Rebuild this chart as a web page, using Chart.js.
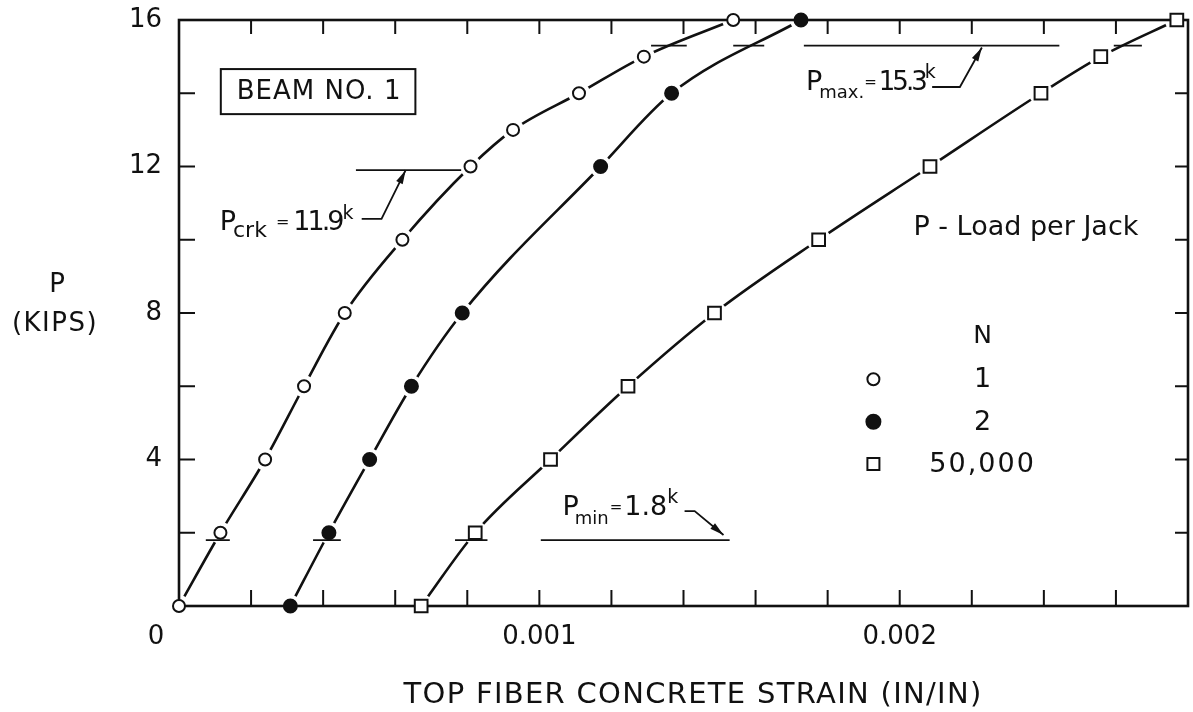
<!DOCTYPE html>
<html>
<head>
<meta charset="utf-8">
<title>Beam No. 1 - load vs. top fiber concrete strain</title>
<script src="https://cdn.jsdelivr.net/npm/chart.js@4.4.1/dist/chart.umd.min.js"></script>
<style>
  html, body { margin: 0; padding: 0; background: #fff; overflow: hidden; }
  #wrap { width: 1200px; height: 712px; }
</style>
</head>
<body>
<div id="wrap"><canvas id="strainChart" width="1200" height="712"></canvas></div>
<script>
// measured points, load P in kips against top fiber strain in in/in
const loadN1 = [0, 2, 4, 6, 8, 10, 12, 13, 14, 15, 16];
const strainN1 = [0, 0.000115, 0.000239, 0.000347, 0.00046, 0.00062, 0.000809, 0.000927, 0.00111, 0.00129, 0.001538];

const loadN2 = [0, 2, 4, 6, 8, 12, 14, 16];
const strainN2 = [0.000309, 0.000416, 0.000529, 0.000645, 0.000786, 0.00117, 0.001367, 0.001726];

const loadN50k = [0, 2, 4, 6, 8, 10, 12, 14, 15, 16];
const strainN50k = [0.000672, 0.000822, 0.001031, 0.001246, 0.001486, 0.001775, 0.002084, 0.002392, 0.002558, 0.002769];

const cycleLabels = ["1", "2", "50,000"];

// load levels and the strain spans their reference lines cover
const pCrk = 11.9;
const pCrkSpans = [[0.000491, 0.000783]];
const pMax = 15.3;
const pMaxSpans = [[0.00131, 0.001409], [0.001538, 0.001624], [0.001734, 0.002443], [0.002594, 0.002672]];
const pMin = 1.8;
const pMinSpans = [[0.0000744, 0.000141], [0.000372, 0.000449], [0.000766, 0.000856], [0.001004, 0.001528]];

const strainLabels = ["0.001", "0.002"];
const loadLabels = [4, 8, 12, 16];
const originLabel = "0";

const INK = "#111";
const FONT = "'DejaVu Sans', sans-serif";

Chart.defaults.font.family = FONT;
Chart.defaults.color = INK;

function toPoints(strains, loads) {
  return strains.map((s, i) => ({ x: s, y: loads[i] }));
}

function spanPoints(spans, level) {
  return spans.flatMap(([a, b]) => [{ x: a, y: level }, { x: b, y: level }, { x: b, y: null }]);
}

const series = [
  { points: toPoints(strainN1, loadN1), style: "circle", fill: "#fff", radius: 6, halo: 11 },
  { points: toPoints(strainN2, loadN2), style: "circle", fill: INK, radius: 6.5, halo: 11 },
  { points: toPoints(strainN50k, loadN50k), style: "rect", fill: "#fff", radius: 9, halo: 12 },
];

const datasets = [];
series.forEach((s, i) => {
  datasets.push({
    data: s.points,
    borderColor: INK,
    borderWidth: 2.6,
    pointRadius: 0,
    cubicInterpolationMode: "monotone",
    order: 12 - i,
    clip: false,
  });
  // white discs that open a small gap in the curve around every marker
  datasets.push({
    data: s.points,
    showLine: false,
    pointStyle: "circle",
    pointRadius: s.halo,
    pointBackgroundColor: "#fff",
    pointBorderWidth: 0,
    order: 9 - i,
    clip: false,
    frameAfter: i === 2,
  });
  datasets.push({
    data: s.points,
    showLine: false,
    pointStyle: s.style,
    pointRadius: s.radius,
    pointBackgroundColor: s.fill,
    pointBorderColor: INK,
    pointBorderWidth: 2,
    order: 3 - i,
    clip: false,
  });
});

[[pCrkSpans, pCrk], [pMaxSpans, pMax], [pMinSpans, pMin]].forEach(([spans, level], i) => {
  datasets.push({
    data: spanPoints(spans, level),
    borderColor: INK,
    borderWidth: 1.6,
    pointRadius: 0,
    spanGaps: false,
    order: 6 - i,
    clip: false,
  });
});

// annotation text, anchored in strain / load units
const notes = [
  {
    at: [0.000113, 10.27],
    runs: [
      { text: "P", size: 27 },
      { text: "crk", size: 22, dy: 7, gap: -3 },
      { text: "=", size: 16, gap: 9, dy: -3 },
      { text: "11.9", size: 27, gap: 4, ls: -3 },
      { text: "k", size: 19, dy: -11, gap: 1 },
    ],
    leader: [[0.000507, 10.57], [0.000562, 10.57], [0.000629, 11.9]],
  },
  {
    at: [0.00174, 14.09],
    runs: [
      { text: "P", size: 27 },
      { text: "max.", size: 18, dy: 8, gap: -3 },
      { text: "=", size: 15, gap: 0, dy: -3 },
      { text: "15.3", size: 26, gap: 2, ls: -3 },
      { text: "k", size: 19, dy: -12, gap: 0 },
    ],
    leader: [[0.00209, 14.17], [0.002167, 14.17], [0.002228, 15.25]],
  },
  {
    at: [0.001064, 2.48],
    runs: [
      { text: "P", size: 27 },
      { text: "min", size: 18, dy: 9, gap: -4 },
      { text: "=", size: 15, gap: 1, dy: -3 },
      { text: "1.8", size: 27, gap: 2 },
      { text: "k", size: 19, dy: -12, gap: 0 },
    ],
    leader: [[0.001403, 2.59], [0.001431, 2.59], [0.001511, 1.94]],
  },
];

function drawRuns(ctx, x, y, runs) {
  ctx.textAlign = "left";
  ctx.textBaseline = "alphabetic";
  for (const r of runs) {
    x += r.gap || 0;
    ctx.font = `${r.size}px ${FONT}`;
    ctx.letterSpacing = `${r.ls || 0}px`;
    ctx.fillText(r.text, x, y + (r.dy || 0));
    x += ctx.measureText(r.text).width;
  }
  ctx.letterSpacing = "0px";
}

function drawLeader(ctx, pts) {
  ctx.beginPath();
  ctx.moveTo(pts[0][0], pts[0][1]);
  pts.slice(1).forEach((p) => ctx.lineTo(p[0], p[1]));
  ctx.stroke();
  const [ax, ay] = pts[pts.length - 2];
  const [bx, by] = pts[pts.length - 1];
  const ang = Math.atan2(by - ay, bx - ax);
  const len = 14;
  const half = 3.6;
  const c = Math.cos(ang);
  const s = Math.sin(ang);
  ctx.beginPath();
  ctx.moveTo(bx, by);
  ctx.lineTo(bx - len * c + half * s, by - len * s - half * c);
  ctx.lineTo(bx - len * c - half * s, by - len * s + half * c);
  ctx.closePath();
  ctx.fill();
}

function drawText(ctx, text, x, y, size, align, spacing) {
  ctx.font = `${size}px ${FONT}`;
  ctx.letterSpacing = `${spacing || 0}px`;
  ctx.textAlign = align || "center";
  ctx.textBaseline = "middle";
  ctx.fillText(text, x, y);
  ctx.letterSpacing = "0px";
}

function drawFrame(chart) {
  const { ctx, chartArea: area, scales } = chart;
  ctx.save();
  ctx.strokeStyle = INK;
  ctx.lineWidth = 2.6;
  ctx.strokeRect(area.left, area.top, area.right - area.left, area.bottom - area.top);

  ctx.lineWidth = 2;
  ctx.beginPath();
  scales.x.ticks.forEach((t) => {
    if (t.value <= scales.x.min || t.value >= scales.x.max) return;
    const px = scales.x.getPixelForValue(t.value);
    ctx.moveTo(px, area.bottom);
    ctx.lineTo(px, area.bottom - 16);
    ctx.moveTo(px, area.top);
    ctx.lineTo(px, area.top + 14);
  });
  scales.y.ticks.forEach((t) => {
    if (t.value <= scales.y.min || t.value >= scales.y.max) return;
    const py = scales.y.getPixelForValue(t.value);
    ctx.moveTo(area.left, py);
    ctx.lineTo(area.left + 16, py);
    ctx.moveTo(area.right, py);
    ctx.lineTo(area.right - 13, py);
  });
  ctx.stroke();
  ctx.restore();
}

function drawNotes(chart) {
  const { ctx, scales } = chart;
  const X = (v) => scales.x.getPixelForValue(v);
  const Y = (v) => scales.y.getPixelForValue(v);
  ctx.save();
  ctx.fillStyle = INK;
  ctx.strokeStyle = INK;
  ctx.lineWidth = 1.8;

  notes.forEach((n) => {
    drawRuns(ctx, X(n.at[0]), Y(n.at[1]), n.runs);
    drawLeader(ctx, n.leader.map(([s, p]) => [X(s), Y(p)]));
  });

  // title box
  const bx0 = X(0.000116), bx1 = X(0.000656);
  const by0 = Y(14.66), by1 = Y(13.43);
  ctx.lineWidth = 2;
  ctx.strokeRect(bx0, by0, bx1 - bx0, by1 - by0);
  drawText(ctx, "BEAM NO. 1", (bx0 + bx1) / 2 + 1, (by0 + by1) / 2 + 1, 26, "center", 1);

  ctx.font = `27px ${FONT}`;
  ctx.textAlign = "left";
  ctx.textBaseline = "alphabetic";
  ctx.fillText("P - Load per Jack", X(0.002038), Y(10.13));

  // cycle key
  const keyX = X(0.001927);
  const labelX = X(0.00223);
  drawText(ctx, "N", labelX, Y(7.13) - 8, 25);
  const rows = [6.19, 5.03, 3.88];
  rows.forEach((load, i) => {
    const py = Y(load);
    const s = series[i];
    ctx.lineWidth = 2;
    ctx.beginPath();
    if (s.style === "rect") {
      ctx.rect(keyX - 6, py - 6, 12, 12);
    } else {
      ctx.arc(keyX, py, s.fill === INK ? 7 : 6, 0, Math.PI * 2);
    }
    ctx.fillStyle = s.fill;
    ctx.fill();
    ctx.stroke();
    ctx.fillStyle = INK;
    drawText(ctx, cycleLabels[i], labelX, py + 1, 27, "center", i === 2 ? 2 : 0);
  });

  // axis titles and the shared origin label
  drawText(ctx, originLabel, X(0) - 23, 637, 26);
  drawText(ctx, "TOP FIBER CONCRETE STRAIN (IN/IN)", 693, 695, 29, "center", 1.3);
  drawText(ctx, "P", 57, 285, 26);
  drawText(ctx, "(KIPS)", 55, 324, 26, "center", 1.5);
  ctx.restore();
}

const framePlugin = {
  id: "frame",
  afterDatasetDraw(chart, args) {
    if (chart.data.datasets[args.index].frameAfter) drawFrame(chart);
  },
  afterDraw(chart) {
    drawNotes(chart);
  },
};

new Chart(document.getElementById("strainChart"), {
  type: "line",
  data: { datasets },
  plugins: [framePlugin],
  options: {
    responsive: false,
    animation: false,
    events: [],
    layout: { padding: { top: 20, right: 5, left: 0, bottom: 0 } },
    plugins: {
      legend: { display: false },
      tooltip: { enabled: false },
    },
    scales: {
      x: {
        type: "linear",
        min: 0,
        max: 0.0028,
        afterFit: (scale) => {
          scale.height = 106;
          scale.paddingLeft = 0;
          scale.paddingRight = 0;
        },
        grid: { display: false, drawTicks: false },
        border: { display: false },
        ticks: {
          stepSize: 0.0002,
          autoSkip: false,
          maxRotation: 0,
          padding: 16,
          color: INK,
          font: { size: 26 },
          callback: (v) => strainLabels.find((l) => Math.abs(Number(l) - v) < 1e-7) || "",
        },
      },
      y: {
        type: "linear",
        min: 0,
        max: 16,
        afterFit: (scale) => {
          scale.width = 179;
          scale.paddingTop = 0;
          scale.paddingBottom = 0;
        },
        grid: { display: false, drawTicks: false },
        border: { display: false },
        ticks: {
          stepSize: 2,
          autoSkip: false,
          padding: 17,
          color: INK,
          font: { size: 26 },
          callback: (v) => (loadLabels.includes(v) ? String(v) : ""),
        },
      },
    },
  },
});
</script>
</body>
</html>
